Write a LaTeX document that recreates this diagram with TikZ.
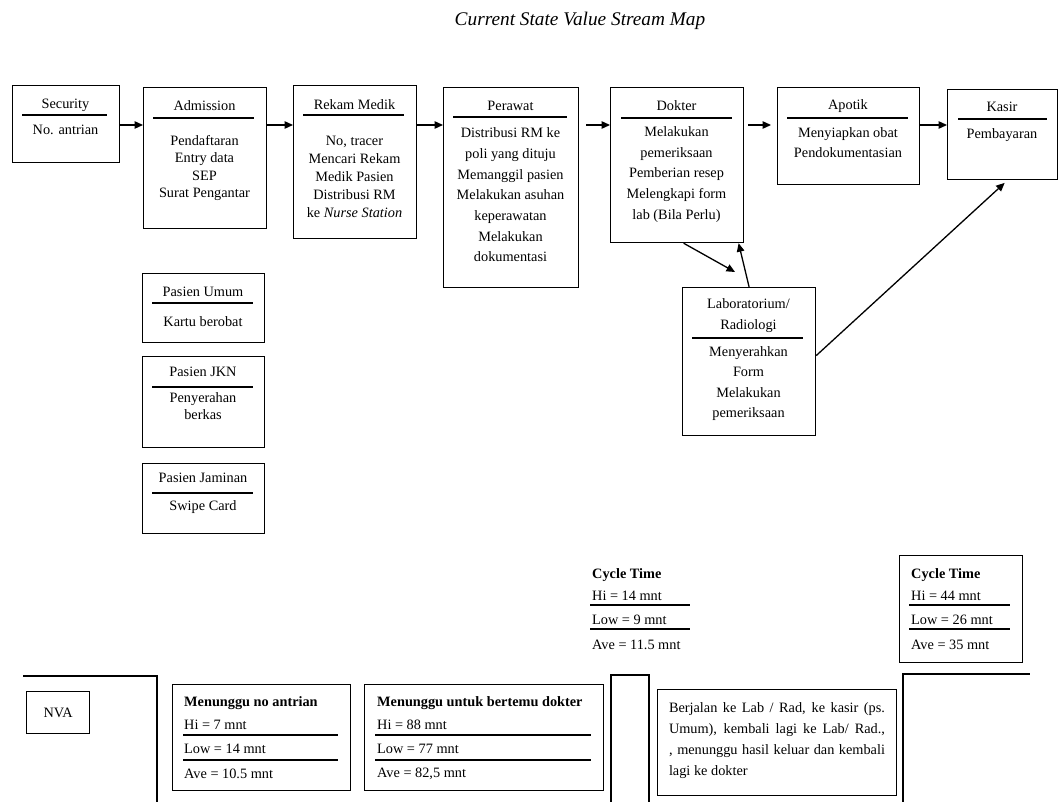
\documentclass[tikz,border=0pt]{standalone}
\usepackage{fontspec}
\setmainfont{Liberation Serif}
\usetikzlibrary{arrows.meta}
\begin{document}
\begin{tikzpicture}[x=1pt,y=-1pt,
  box/.style={draw, line width=1.2pt, anchor=north west, inner sep=0pt},
  txt/.style={inner sep=0pt, align=center, font=\fontsize{14.3}{18}\selectfont},
  ltxt/.style={inner sep=0pt, anchor=west, font=\fontsize{14.3}{18}\selectfont},
  rule/.style={line width=1.2pt},
  flow/.style={line width=1.3pt, -{Triangle[length=8.5pt,width=7.5pt]}},
  bs/.style={font=\fontsize{14.3}{#1}\selectfont}]
\useasboundingbox (0,0) rectangle (1060,802);

% title
\node[inner sep=0pt, font=\fontsize{19.3}{22}\selectfont\itshape] (title) at (580,21) {Current State Value Stream Map};

% process boxes
\node[box, minimum width=107pt, minimum height=77pt] (sec) at (12,85) {};
\node[txt] (secT) at (65.5,105) {Security};
\draw[rule] (22,115) -- (107,115);
\node[txt] (secB) at (65.5,130) {No. antrian};

\node[box, minimum width=123pt, minimum height=141pt] (adm) at (143,87) {};
\node[txt] (admT) at (204.5,106) {Admission};
\draw[rule] (153,118) -- (254,118);
\node[txt, bs=17.3] (admB) at (204.5,168) {Pendaftaran\\Entry data\\SEP\\Surat Pengantar};

\node[box, minimum width=123pt, minimum height=153pt] (rm) at (293,85) {};
\node[txt] (rmT) at (354.5,105) {Rekam Medik};
\draw[rule] (303,115) -- (404,115);
\node[txt, bs=18] (rmB) at (354.5,177) {No, tracer\\Mencari Rekam\\Medik Pasien\\Distribusi RM\\ke \textit{Nurse Station}};

\node[box, minimum width=135pt, minimum height=200pt] (per) at (443,87) {};
\node[txt] (perT) at (510.5,106) {Perawat};
\draw[rule] (453,117) -- (567,117);
\node[txt, bs=20.7] (perB) at (510.5,195) {Distribusi RM ke\\poli yang dituju\\Memanggil pasien\\Melakukan asuhan\\keperawatan\\Melakukan\\dokumentasi};

\node[box, minimum width=133pt, minimum height=155pt] (dok) at (610,87) {};
\node[txt] (dokT) at (676.5,106) {Dokter};
\draw[rule] (621,118) -- (732,118);
\node[txt, bs=20.7] (dokB) at (676.5,174.5) {Melakukan\\pemeriksaan\\Pemberian resep\\Melengkapi form\\lab (Bila Perlu)};

\node[box, minimum width=142pt, minimum height=97pt] (apo) at (777,87) {};
\node[txt] (apoT) at (848,106) {Apotik};
\draw[rule] (787,118) -- (908,118);
\node[txt, bs=20] (apoB) at (848,143) {Menyiapkan obat\\Pendokumentasian};

\node[box, minimum width=110pt, minimum height=90pt] (kas) at (947,89) {};
\node[txt] (kasT) at (1002,107) {Kasir};
\draw[rule] (958,119) -- (1047,119);
\node[txt] (kasB) at (1002,135) {Pembayaran};

\node[box, minimum width=133pt, minimum height=148pt] (lab) at (682,287) {};
\node[txt, bs=21] (labT) at (748.5,316) {Laboratorium/\\Radiologi};
\draw[rule] (692,338) -- (803,338);
\node[txt, bs=20.3] (labB) at (748.5,383.5) {Menyerahkan\\Form\\Melakukan\\pemeriksaan};

% patient categories
\node[box, minimum width=122pt, minimum height=69pt] (umum) at (142,273) {};
\node[txt] (umumT) at (203,292) {Pasien Umum};
\draw[rule] (152,303) -- (253,303);
\node[txt] (umumB) at (203,322) {Kartu berobat};

\node[box, minimum width=122pt, minimum height=91pt] (jkn) at (142,356) {};
\node[txt] (jknT) at (203,372) {Pasien JKN};
\draw[rule] (152,387) -- (253,387);
\node[txt, bs=17] (jknB) at (203,406.5) {Penyerahan\\berkas};

\node[box, minimum width=122pt, minimum height=70pt] (jam) at (142,463) {};
\node[txt] (jamT) at (203,478) {Pasien Jaminan};
\draw[rule] (152,493) -- (253,493);
\node[txt] (jamB) at (203,507) {Swipe Card};

% flow between processes
\coordinate (row) at (0,125);
\draw[flow] (sec.east |- row) -- (adm.west |- row);
\draw[flow] (adm.east |- row) -- (rm.west |- row);
\draw[flow] (rm.east |- row) -- (per.west |- row);
\draw[flow, shorten <=7pt] (per.east |- row) -- (dok.west |- row);
\draw[flow, shorten <=4pt, shorten >=6pt] (dok.east |- row) -- (apo.west |- row);
\draw[flow] (apo.east |- row) -- (kas.west |- row);

\coordinate (labIn) at (735,272);
\draw[flow] ([xshift=6.5pt]dok.south) -- (labIn);
\draw[flow] (lab.north) -- ([xshift=61.5pt]dok.south);
\draw[flow, shorten >=4pt] ([yshift=6pt]lab.east) -- ([xshift=5pt]kas.south);

% cycle times
\node[ltxt] (ct1) at (592,575) {\textbf{Cycle Time}};
\node[ltxt] (ct1h) at (592,596) {Hi = 14 mnt};
\draw[rule] (590,605) -- (690,605);
\node[ltxt] (ct1l) at (592,620) {Low = 9 mnt};
\draw[rule] (590,629) -- (690,629);
\node[ltxt] (ct1a) at (592,645) {Ave = 11.5 mnt};

\node[box, minimum width=123pt, minimum height=107pt] (ct2box) at (899,555) {};
\node[ltxt] (ct2) at (911,575) {\textbf{Cycle Time}};
\node[ltxt] (ct2h) at (911,596) {Hi = 44 mnt};
\draw[rule] (909,605) -- (1010,605);
\node[ltxt] (ct2l) at (911,620) {Low = 26 mnt};
\draw[rule] (909,629) -- (1010,629);
\node[ltxt] (ct2a) at (911,645) {Ave = 35 mnt};

% non value added timeline
\draw[rule] (23,676) -- (157,676) -- (157,802);
\node[box, minimum width=63pt, minimum height=42pt] (nva) at (26,691) {};
\node[txt] (nvaT) at (nva.center) {NVA};

\node[box, minimum width=178pt, minimum height=106pt] (w1) at (172,684) {};
\node[ltxt] (w1T) at (184,703) {\textbf{Menunggu no antrian}};
\node[ltxt] (w1h) at (184,725) {Hi = 7 mnt};
\draw[rule] (183,735) -- (338,735);
\node[ltxt] (w1l) at (184,749) {Low = 14 mnt};
\draw[rule] (183,760) -- (338,760);
\node[ltxt] (w1a) at (184,774) {Ave = 10.5 mnt};

\node[box, minimum width=239pt, minimum height=106pt] (w2) at (364,684) {};
\node[ltxt] (w2T) at (377,703) {\textbf{Menunggu untuk bertemu dokter}};
\node[ltxt] (w2h) at (377,725) {Hi = 88 mnt};
\draw[rule] (375,735) -- (591,735);
\node[ltxt] (w2l) at (377,749) {Low = 77 mnt};
\draw[rule] (375,760) -- (591,760);
\node[ltxt] (w2a) at (377,774) {Ave = 82,5 mnt};

\draw[rule] (611,802) -- (611,675) -- (649,675) -- (649,802);

\node[box, minimum width=239pt, minimum height=106pt] (walk) at (657,689) {};
\node[inner sep=0pt, text width=216pt, align=justify, font=\fontsize{14.3}{21}\selectfont] (walkT) at (777,740.5)
  {Berjalan ke Lab / Rad, ke kasir (ps.\linebreak Umum), kembali lagi ke Lab/ Rad.,\linebreak , menunggu hasil keluar dan kembali lagi ke dokter};

\draw[rule] (903,802) -- (903,674) -- (1030,674);
\end{tikzpicture}
\end{document}
